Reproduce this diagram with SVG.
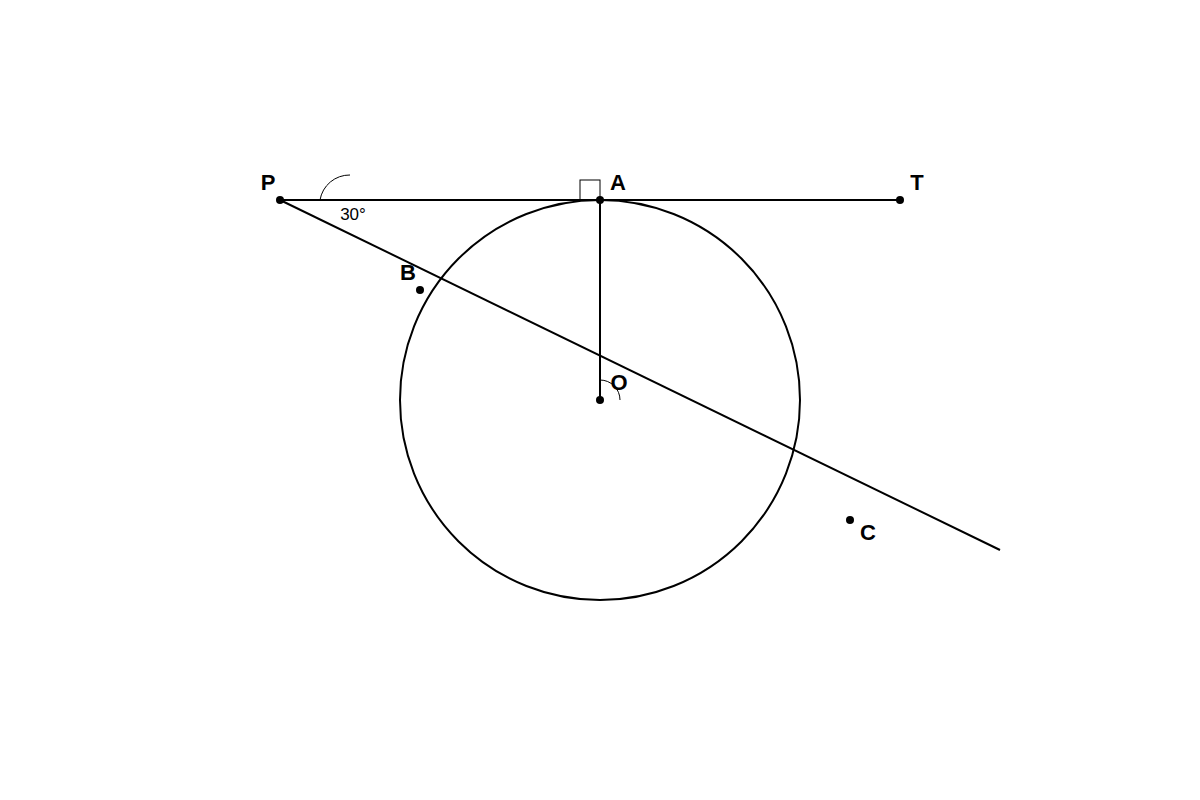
<svg xmlns="http://www.w3.org/2000/svg" width="1200" height="800" viewBox="0 0 1200 800">
<style>
.ln{stroke:#000;stroke-width:2;fill:none}
.thin{stroke:#000;stroke-width:1;fill:none}
.dot{fill:#000}
.lbl{font-family:"Liberation Sans",Arial,sans-serif;font-weight:bold;font-size:22px;fill:#000;text-anchor:middle}
.ang{font-family:"Liberation Sans",Arial,sans-serif;font-size:17px;fill:#000;text-anchor:middle}
</style>
<rect width="1200" height="800" fill="#fff"/>
<g id="circle"><circle class="ln" cx="600" cy="400" r="200"/></g>
<g id="connectors">
<line class="ln" x1="280" y1="200" x2="900" y2="200"/>
<line class="ln" x1="280" y1="200" x2="1000" y2="550"/>
<line class="ln" x1="600" y1="200" x2="600" y2="400"/>
<rect class="thin" x="580" y="180" width="20" height="20" stroke="#333"/>
<path class="thin" d="M320 200 A30 30 0 0 1 350 175"/>
<path class="thin" d="M600 380 A20 20 0 0 1 620 400"/>
</g>
<g id="P"><circle class="dot" cx="280" cy="200" r="4"/><text class="lbl" x="268" y="190">P</text></g>
<g id="A"><circle class="dot" cx="600" cy="200" r="4"/><text class="lbl" x="618" y="190">A</text></g>
<g id="T"><circle class="dot" cx="900" cy="200" r="4"/><text class="lbl" x="917" y="190">T</text></g>
<g id="B"><circle class="dot" cx="420" cy="290" r="4"/><text class="lbl" x="408" y="280">B</text></g>
<g id="O"><circle class="dot" cx="600" cy="400" r="4"/><text class="lbl" x="619" y="390">O</text></g>
<g id="C"><circle class="dot" cx="850" cy="520" r="4"/><text class="lbl" x="868" y="540">C</text></g>
<g id="angle"><text class="ang" x="353" y="220">30°</text></g>
</svg>
